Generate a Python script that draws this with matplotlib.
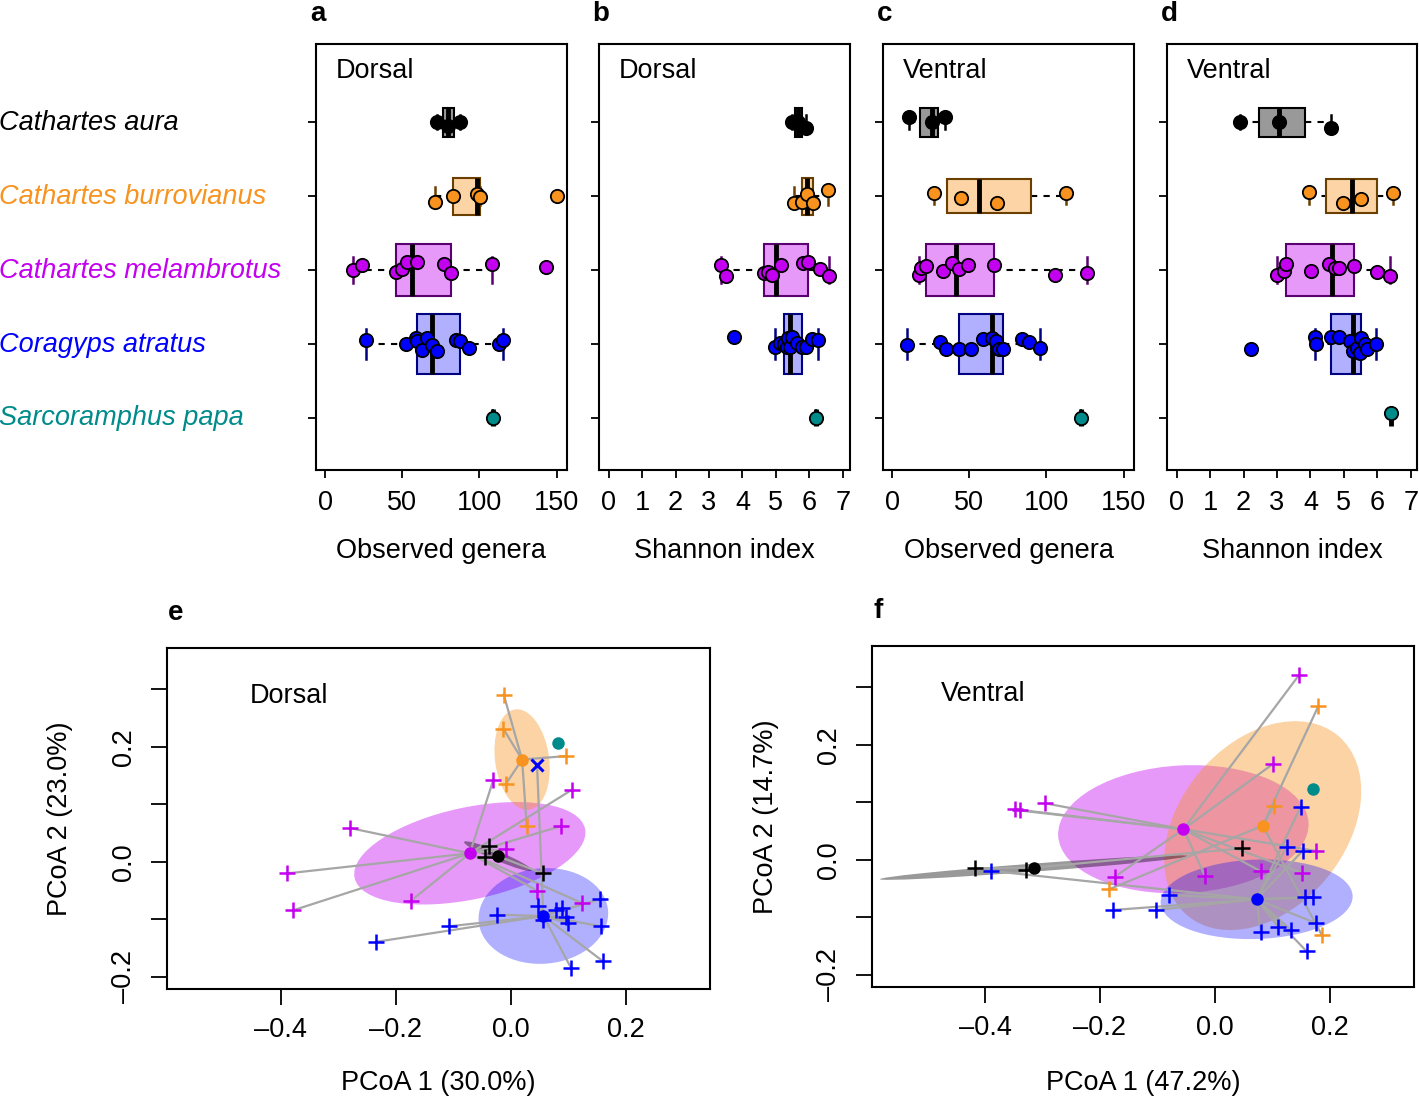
import math
import matplotlib
matplotlib.use('Agg')
import matplotlib.pyplot as plt
import matplotlib.colors as mcolors
from matplotlib import transforms
from matplotlib.patches import Rectangle, Ellipse

plt.rcParams['font.family'] = ['Liberation Sans', 'DejaVu Sans']
plt.rcParams['font.size'] = 19.5

# species (top to bottom) and colours
species = ['Cathartes aura', 'Cathartes burrovianus', 'Cathartes melambrotus',
           'Coragyps atratus', 'Sarcoramphus papa']
colors = ['#000000', '#F7931E', '#C400F0', '#0000FF', '#008B8B']
borders = ['#000000', '#6B3F00', '#5A0070', '#000080', '#004545']
fill_alpha = [0.4, 0.4, 0.4, 0.31, 0.4]

# alpha diversity values per species (aura, burrovianus, melambrotus, atratus, papa)
dorsal_obs = [
    [72.5, 79.8, 87.7],
    [71.2, 83.0, 98.2, 100.4, 150.5],
    [17.7, 24.1, 46.2, 49.5, 53.2, 59.6, 77.2, 81.5, 107.9, 143.0],
    [26.2, 52.2, 58.9, 59.8, 62.9, 66.2, 69.3, 72.7, 84.6, 87.4, 93.4, 112.9, 115.1],
    [108.6],
]
dorsal_obs_jit = [
    [0.0, 0.05, 0.0],
    [0.077, 0.0, -0.027, 0.018, 0.0],
    [0.0, -0.063, 0.032, -0.014, -0.104, -0.104, -0.086, 0.041, -0.081, -0.036],
    [-0.05, 0.01, -0.08, -0.036, 0.086, -0.08, 0.023, 0.1, -0.045, -0.036, 0.054, 0.0, -0.05],
    [0.0],
]
dorsal_sha = [
    [5.47, 5.67, 5.91],
    [5.54, 5.79, 5.94, 6.12, 6.57],
    [3.35, 3.51, 4.65, 4.77, 4.87, 5.14, 5.80, 5.97, 6.32, 6.60],
    [3.75, 4.98, 5.13, 5.25, 5.32, 5.37, 5.42, 5.49, 5.64, 5.78, 5.90, 6.07, 6.27],
    [6.20],
]
dorsal_sha_jit = [
    [0.0, 0.0, 0.08],
    [0.09, 0.077, -0.027, 0.09, -0.081],
    [-0.063, 0.077, 0.04, 0.032, 0.072, -0.072, -0.095, -0.104, -0.014, 0.086],
    [-0.095, 0.04, -0.014, 0.01, 0.04, -0.08, 0.04, -0.095, -0.014, 0.045, 0.04, -0.068, -0.05],
    [0.0],
]
ventral_obs = [
    [11.0, 25.5, 34.2],
    [27.1, 44.5, 68.1, 112.5],
    [17.5, 18.4, 21.6, 33.1, 38.9, 43.2, 49.4, 65.9, 105.6, 126.6],
    [9.3, 30.9, 34.9, 43.4, 51.0, 59.0, 64.9, 67.0, 69.2, 72.0, 83.9, 88.7, 95.8],
    [122.4],
]
ventral_obs_jit = [
    [-0.068, -0.009, -0.077],
    [-0.045, 0.032, 0.09, -0.036],
    [0.063, -0.027, -0.05, 0.009, -0.095, -0.014, -0.063, -0.063, 0.063, 0.041],
    [0.023, -0.027, 0.077, 0.068, 0.077, -0.068, -0.081, -0.036, 0.068, 0.077, -0.059, -0.023, 0.054],
    [0.0],
]
ventral_sha = [
    [1.88, 3.07, 4.61],
    [3.96, 4.96, 5.52, 6.47],
    [3.01, 3.20, 3.27, 4.01, 4.54, 4.73, 4.85, 5.31, 5.98, 6.37],
    [2.22, 4.13, 4.18, 4.61, 4.86, 5.18, 5.28, 5.38, 5.49, 5.52, 5.63, 5.70, 5.96],
    [6.42],
]
ventral_sha_jit = [
    [0.0, 0.0, 0.08],
    [-0.059, 0.1, 0.041, -0.045],
    [0.072, 0.02, -0.086, 0.009, -0.086, -0.027, -0.027, -0.05, 0.032, 0.077],
    [0.068, -0.095, 0.009, -0.095, -0.095, -0.036, 0.1, 0.054, 0.12, -0.081, 0.0, 0.077, 0.009],
    [-0.06],
]

# PCoA scores, groups in order aura, burrovianus, melambrotus, atratus
e_x = [
    [-0.038, -0.044, 0.056],
    [-0.012, -0.013, -0.008, 0.096, 0.028],
    [-0.280, -0.389, -0.378, -0.174, -0.030, 0.106, 0.087, -0.008, 0.046, 0.125],
    [-0.234, -0.107, -0.024, 0.048, 0.056, 0.079, 0.090, 0.096, 0.100, 0.155, 0.158, 0.105, 0.161],
]
e_y = [
    [0.028, 0.009, -0.020],
    [0.291, 0.232, 0.136, 0.184, 0.062],
    [0.059, -0.020, -0.084, -0.068, 0.143, 0.125, 0.062, 0.022, -0.050, -0.072],
    [-0.139, -0.112, -0.092, -0.077, -0.101, -0.084, -0.081, -0.096, -0.107, -0.065, -0.112, -0.184, -0.173],
]
e_cent_x = [-0.022, 0.020, -0.071, 0.057]
e_cent_y = [0.010, 0.178, 0.015, -0.094]
e_ell_a = [0.064, 0.088, 0.205, 0.113]
e_ell_b = [0.008, 0.047, 0.080, 0.083]
e_ell_ang = [-22.8, 98, 12, 5]
e_papa = (0.083, 0.206)
e_atratus_x_mark = (0.046, 0.168)

f_x = [
    [-0.417, -0.329, 0.0475],
    [0.180, 0.1026, 0.1855, -0.184],
    [-0.348, -0.339, -0.296, -0.174, 0.1466, 0.101, 0.175, 0.152, 0.080, -0.0174],
    [-0.390, -0.177, 0.149, 0.1246, 0.1525, -0.0794, -0.1026, 0.1565, 0.170, 0.1757, 0.0795, 0.110, 0.1317, 0.1595],
]
f_y = [
    [-0.0145, -0.0174, 0.0203],
    [0.268, 0.0945, -0.130, -0.051],
    [0.088, 0.086, 0.0986, -0.029, 0.322, 0.167, 0.0157, -0.023, -0.020, -0.0278],
    [-0.019, -0.087, 0.0928, 0.022, 0.016, -0.061, -0.087, -0.065, -0.065, -0.110, -0.126, -0.116, -0.1217, -0.159],
]
f_cent_x = [-0.315, 0.083, -0.055, 0.0725]
f_cent_y = [-0.0133, 0.0597, 0.0534, -0.0684]
f_ell_a = [0.2686, 0.204, 0.218, 0.167]
f_ell_b = [0.007, 0.144, 0.111, 0.069]
f_ell_ang = [4.3, 50, 3, 2]
f_papa = (0.171, 0.123)

W, H = 1419, 1099
fig = plt.figure(figsize=(W / 100, H / 100), dpi=100)


def px_axes(l, t, r, b):
    return fig.add_axes([l / W, 1 - b / H, (r - l) / W, (b - t) / H])


def light(c, a=0.4):
    r, g, b = mcolors.to_rgb(c)
    return (1 - a + a * r, 1 - a + a * g, 1 - a + a * b)


def fivenum(v):
    v = sorted(v)
    n = len(v)
    n4 = math.floor((n + 3) / 2) / 2
    d = [1, n4, (n + 1) / 2, n + 1 - n4, n]
    return [0.5 * (v[math.floor(x) - 1] + v[math.ceil(x) - 1]) for x in d]


def box_panel(ax, groups, jits, xlim, xticks, xlabel, title):
    for i, (vals, jit) in enumerate(zip(groups, jits)):
        st = fivenum(vals)
        h1, med, h3 = st[1], st[2], st[3]
        iqr = h3 - h1
        inside = [v for v in vals if h1 - 1.5 * iqr <= v <= h3 + 1.5 * iqr]
        wlo, whi = min(inside), max(inside)
        w = 0.225 * math.sqrt(len(vals))
        ax.add_patch(Rectangle((h1, i - w / 2), h3 - h1, w, fc=light(colors[i], fill_alpha[i]),
                               ec=borders[i], lw=1.5, zorder=2))
        ax.plot([med, med], [i - w / 2, i + w / 2], color='black', lw=3.5,
                solid_capstyle='butt', zorder=2.5)
        for a, b in [(wlo, h1), (h3, whi)]:
            if b > a:
                ax.plot([a, b], [i, i], color='black', lw=1.5, ls=(0, (3, 3)), zorder=1.5)
        for s in (wlo, whi):
            ax.plot([s, s], [i - w / 4, i + w / 4], color=borders[i], lw=1.8, zorder=1.5)
        ax.scatter(vals, [i + j for j in jit], s=92, c=colors[i], edgecolors='black',
                   linewidths=1.3, zorder=3)
    ax.set_xlim(xlim)
    ax.set_ylim(4.71, -1.06)
    ax.set_yticks(range(5))
    ax.set_yticklabels([])
    ax.set_xticks(xticks)
    ax.tick_params(direction='out', length=5.5, width=1.3, pad=9)
    for sp in ax.spines.values():
        sp.set_linewidth(1.5)
    ax.text(0.08, 0.937, title, transform=ax.transAxes, ha='left', va='center')
    bb = ax.get_position()
    fig.text((bb.x0 + bb.x1) / 2, 1 - 558 / H, xlabel, ha='center', va='baseline')


ax_a = px_axes(316, 44, 567, 470)
ax_b = px_axes(599, 44, 850, 470)
ax_c = px_axes(883, 44, 1134, 470)
ax_d = px_axes(1167, 44, 1417, 470)

box_panel(ax_a, dorsal_obs, dorsal_obs_jit, (-6.0, 156.8), [0, 50, 100, 150], 'Observed genera', 'Dorsal')
box_panel(ax_b, dorsal_sha, dorsal_sha_jit, (-0.287, 7.214), range(8), 'Shannon index', 'Dorsal')
box_panel(ax_c, ventral_obs, ventral_obs_jit, (-6.0, 156.8), [0, 50, 100, 150], 'Observed genera', 'Ventral')
box_panel(ax_d, ventral_sha, ventral_sha_jit, (-0.287, 7.185), range(8), 'Shannon index', 'Ventral')

tr = transforms.blended_transform_factory(fig.transFigure, ax_a.transData)
for i, name in enumerate(species):
    ax_a.text(-0.001, i + 0.105, name, transform=tr, ha='left', va='baseline',
              style='italic', color=colors[i], clip_on=False)

for lab, x in zip('abcd', [318, 601, 885, 1169]):
    fig.text(x / W, 1 - 14 / H, lab, ha='center', va='center', weight='bold', fontsize=20)


def pcoa_panel(ax, xs, ys, cx, cy, ea, eb, eang, papa, xlim, ylim, title, tx):
    for g in [2, 1, 3, 0]:
        ax.add_patch(Ellipse((cx[g], cy[g]), 2 * ea[g], 2 * eb[g], angle=eang[g],
                             fc=colors[g], alpha=fill_alpha[g], ec='none', zorder=1))
    for g in range(4):
        for x, y in zip(xs[g], ys[g]):
            ax.plot([cx[g], x], [cy[g], y], color='#A6A6A6', lw=1.6, zorder=2)
    for g in range(4):
        ax.plot(xs[g], ys[g], '+', color=colors[g], ms=11, mew=1.8, ls='none', zorder=4)
        ax.plot(cx[g], cy[g], 'o', color=colors[g], ms=9, mec='none', zorder=5)
    ax.plot(papa[0], papa[1], 'o', color=colors[4], ms=9, mec='none', zorder=5)
    ax.set_xlim(xlim)
    ax.set_ylim(ylim)
    ax.set_xticks([-0.4, -0.2, 0.0, 0.2], ['\u20130.4', '\u20130.2', '0.0', '0.2'])
    ax.set_yticks([-0.2, -0.1, 0.0, 0.1, 0.2, 0.3], ['\u20130.2', '', '0.0', '', '0.2', ''])
    ax.tick_params(direction='out', length=11.5, width=1.3)
    ax.tick_params(axis='x', pad=9)
    ax.tick_params(axis='y', pad=10)
    for lab in ax.get_yticklabels():
        lab.set_rotation(90)
        lab.set_va('center')
    for sp in ax.spines.values():
        sp.set_linewidth(1.5)
    ax.text(tx, 0.86, title, transform=ax.transAxes, ha='left', va='center')


ax_e = px_axes(167, 648, 710, 989)
ax_f = px_axes(872, 646, 1414, 987)

pcoa_panel(ax_e, e_x, e_y, e_cent_x, e_cent_y, e_ell_a, e_ell_b, e_ell_ang, e_papa,
           (-0.598, 0.347), (-0.221, 0.372), 'Dorsal', 0.153)
ax_e.plot([e_cent_x[3], e_atratus_x_mark[0]], [e_cent_y[3], e_atratus_x_mark[1]],
          color='#A6A6A6', lw=1.6, zorder=2)
ax_e.plot(*e_atratus_x_mark, 'x', color=colors[3], ms=9, mew=2.2, zorder=4)

pcoa_panel(ax_f, f_x, f_y, f_cent_x, f_cent_y, f_ell_a, f_ell_b, f_ell_ang, f_papa,
           (-0.5965, 0.3461), (-0.2209, 0.372), 'Ventral', 0.127)

fig.text(438.5 / W, 1 - 1083 / H, 'PCoA 1 (30.0%)', ha='center', va='center')
fig.text(1143 / W, 1 - 1083 / H, 'PCoA 1 (47.2%)', ha='center', va='center')
fig.text(60 / W, 1 - 818.5 / H, 'PCoA 2 (23.0%)', ha='center', va='center', rotation=90)
fig.text(766 / W, 1 - 816.5 / H, 'PCoA 2 (14.7%)', ha='center', va='center', rotation=90)
fig.text(176 / W, 1 - 613 / H, 'e', ha='center', va='center', weight='bold', fontsize=20)
fig.text(878 / W, 1 - 611 / H, 'f', ha='center', va='center', weight='bold', fontsize=20)

fig.savefig('out.png', dpi=100)
